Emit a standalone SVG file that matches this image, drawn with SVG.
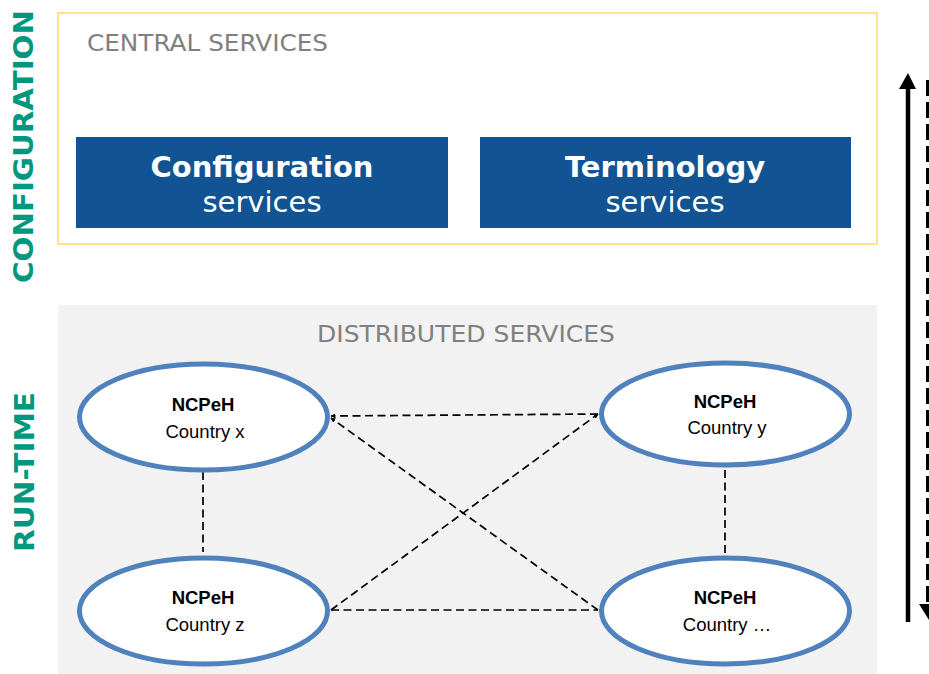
<svg xmlns="http://www.w3.org/2000/svg" width="929" height="674" viewBox="0 0 929 674">
<style>
.sec{font-family:"DejaVu Sans","Verdana",sans-serif;font-size:23px;fill:#808080}
.side{font-family:"DejaVu Sans","Verdana",sans-serif;font-size:27px;font-weight:bold;fill:#00977F}
.box{fill:#125493}
.bt{font-family:"DejaVu Sans","Verdana",sans-serif;font-size:29px;fill:#fff;text-anchor:middle}
.ell{fill:#fff;stroke:#4F81BD;stroke-width:5}
.nt{font-family:"Liberation Sans","Arial",sans-serif;font-size:18.5px;fill:#000;text-anchor:middle}
.dash{stroke:#000;stroke-width:1.7;stroke-dasharray:8 4.5;fill:none}
</style>
<defs>
<marker id="sm" viewBox="0 0 10 10" refX="9" refY="5" markerWidth="5" markerHeight="5" orient="auto-start-reverse" markerUnits="userSpaceOnUse">
<path d="M0,0 L10,5 L0,10 Z" fill="#000"/>
</marker>
</defs>
<rect x="0" y="0" width="929" height="674" fill="#fff"/>
<g id="central">
<rect x="58" y="13" width="819" height="231" fill="#fff" stroke="#FFD966" stroke-width="1.5"/>
<text class="sec" x="87" y="51" textLength="241" lengthAdjust="spacingAndGlyphs">CENTRAL SERVICES</text>
</g>
<g id="distributed">
<rect x="58" y="305" width="819" height="369" fill="#F2F2F2"/>
<text class="sec" x="317" y="342" textLength="298" lengthAdjust="spacingAndGlyphs">DISTRIBUTED SERVICES</text>
</g>
<g id="label-configuration">
<text class="side" transform="translate(33,283) rotate(-90)" x="0" y="0" textLength="273" lengthAdjust="spacingAndGlyphs">CONFIGURATION</text>
</g>
<g id="label-runtime">
<text class="side" transform="translate(34,552) rotate(-90)" x="0" y="0" textLength="160" lengthAdjust="spacingAndGlyphs">RUN-TIME</text>
</g>
<g id="configuration-services">
<rect class="box" x="76" y="137" width="372" height="91"/>
<text class="bt" x="262" y="177" font-weight="bold">Configuration</text>
<text class="bt" x="262" y="212">services</text>
</g>
<g id="terminology-services">
<rect class="box" x="480" y="137" width="371" height="91"/>
<text class="bt" x="665" y="177" font-weight="bold">Terminology</text>
<text class="bt" x="665" y="212">services</text>
</g>
<g id="connectors">
<line class="dash" x1="203" y1="472" x2="203" y2="552"/>
<line class="dash" x1="725" y1="470" x2="725" y2="556"/>
<line class="dash" x1="598" y1="414" x2="331" y2="416" marker-end="url(#sm)"/>
<line class="dash" x1="331" y1="610" x2="598" y2="610"/>
<line class="dash" x1="598" y1="610" x2="331" y2="418" marker-end="url(#sm)"/>
<line class="dash" x1="331" y1="610" x2="598" y2="414" marker-end="url(#sm)"/>
<line x1="908" y1="86" x2="908" y2="622" stroke="#000" stroke-width="4.5"/>
<path d="M899,89 L908,73 L916,89 Z" fill="#000"/>
<line x1="928.5" y1="80" x2="928.5" y2="606" stroke="#000" stroke-width="5" stroke-dasharray="16 6"/>
<path d="M919,604 L929,620 L939,604 Z" fill="#000"/>
</g>
<g id="ncpeh-x">
<ellipse class="ell" cx="203.5" cy="417" rx="124" ry="53"/>
<text class="nt" x="203" y="411" font-weight="bold">NCPeH</text>
<text class="nt" x="205" y="438">Country x</text>
</g>
<g id="ncpeh-z">
<ellipse class="ell" cx="203.5" cy="611" rx="124" ry="53"/>
<text class="nt" x="203" y="604" font-weight="bold">NCPeH</text>
<text class="nt" x="205" y="631">Country z</text>
</g>
<g id="ncpeh-y">
<ellipse class="ell" cx="725.5" cy="414" rx="124" ry="51"/>
<text class="nt" x="725" y="408" font-weight="bold">NCPeH</text>
<text class="nt" x="727" y="434">Country y</text>
</g>
<g id="ncpeh-etc">
<ellipse class="ell" cx="725.5" cy="611" rx="124" ry="53"/>
<text class="nt" x="725" y="604" font-weight="bold">NCPeH</text>
<text class="nt" x="727" y="631">Country …</text>
</g>
</svg>
